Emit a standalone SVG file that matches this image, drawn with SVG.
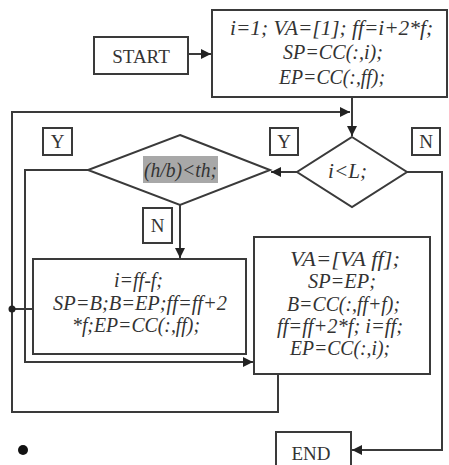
<svg xmlns="http://www.w3.org/2000/svg" width="449" height="465" viewBox="0 0 449 465">
<defs>
<style>
.box{fill:#fff;stroke:#3a3a3a;stroke-width:2}
.ln{fill:none;stroke:#3a3a3a;stroke-width:2}
.t{font-family:"Liberation Serif","Times New Roman",serif;font-style:italic;font-size:20px;fill:#333}
.u{font-family:"Liberation Serif","Times New Roman",serif;font-size:19px;fill:#333}
</style>
<marker id="ah" viewBox="0 0 10 10" refX="10" refY="5" markerWidth="5" markerHeight="5" orient="auto" markerUnits="strokeWidth">
<path d="M0,0 L10,5 L0,10 z" fill="#222"/>
</marker>
</defs>
<rect width="449" height="465" fill="#fff"/>
<g id="connectors">
<path class="ln" d="M188,54 H211" marker-end="url(#ah)"/>
<path class="ln" d="M352,97 V136" marker-end="url(#ah)"/>
<path class="ln" d="M278,374 V412 H12 V112 H350" marker-end="url(#ah)"/>
<path class="ln" d="M297,172 H271" marker-end="url(#ah)"/>
<path class="ln" d="M88,170 H25 V362 H253" marker-end="url(#ah)"/>
<path class="ln" d="M180,205 V258" marker-end="url(#ah)"/>
<path class="ln" d="M33,309 H12"/>
<circle cx="12" cy="309" r="3.5" fill="#222"/>
<path class="ln" d="M407,172 H442 V450 H352" marker-end="url(#ah)"/>
</g>
<g id="start">
<rect class="box" x="94" y="37" width="94" height="37"/>
<text class="u" x="141" y="63" text-anchor="middle" font-size="20">START</text>
</g>
<g id="init">
<rect class="box" x="212" y="10" width="235" height="87"/>
<text class="t" x="230" y="35" textLength="203" lengthAdjust="spacingAndGlyphs">i=1; VA=[1];  ff=i+2*f;</text>
<text class="t" x="283" y="59" textLength="100" lengthAdjust="spacingAndGlyphs">SP=CC(:,i);</text>
<text class="t" x="279" y="84" textLength="106" lengthAdjust="spacingAndGlyphs">EP=CC(:,ff);</text>
</g>
<g id="cond-iL">
<polygon class="box" points="352,137 407,172 352,207 297,172"/>
<text class="t" x="328" y="178" textLength="39" lengthAdjust="spacingAndGlyphs">i&lt;L;</text>
</g>
<g id="cond-hb">
<polygon class="box" points="180,135 270,170 180,205 88,170"/>
<rect x="143" y="156" width="75" height="27" fill="#a8a8a8"/>
<text class="t" x="144" y="177" textLength="73" lengthAdjust="spacingAndGlyphs">(h/b)&lt;th;</text>
</g>
<g id="label-y1">
<rect class="box" x="43" y="128" width="29" height="27"/>
<text class="u" x="57.5" y="148" text-anchor="middle">Y</text>
</g>
<g id="label-y2">
<rect class="box" x="270" y="128" width="28" height="27"/>
<text class="u" x="284" y="148" text-anchor="middle">Y</text>
</g>
<g id="label-n1">
<rect class="box" x="412" y="128" width="28" height="27"/>
<text class="u" x="426" y="148" text-anchor="middle">N</text>
</g>
<g id="label-n2">
<rect class="box" x="143" y="208" width="29" height="35"/>
<text class="u" x="157.5" y="232" text-anchor="middle">N</text>
</g>
<g id="box-left">
<rect class="box" x="33" y="259" width="213" height="95"/>
<text class="t" x="114" y="287" textLength="49" lengthAdjust="spacingAndGlyphs">i=ff-f;</text>
<text class="t" x="53" y="310" textLength="174" lengthAdjust="spacingAndGlyphs">SP=B;B=EP;ff=ff+2</text>
<text class="t" x="72" y="332" textLength="128" lengthAdjust="spacingAndGlyphs">*f;EP=CC(:,ff);</text>
</g>
<g id="box-right">
<rect class="box" x="254" y="237" width="176" height="137"/>
<text class="t" x="290" y="266" textLength="110" lengthAdjust="spacingAndGlyphs">VA=[VA  ff];</text>
<text class="t" x="308" y="288" textLength="68" lengthAdjust="spacingAndGlyphs">SP=EP;</text>
<text class="t" x="287" y="311" textLength="113" lengthAdjust="spacingAndGlyphs">B=CC(:,ff+f);</text>
<text class="t" x="277" y="333" textLength="126" lengthAdjust="spacingAndGlyphs">ff=ff+2*f; i=ff;</text>
<text class="t" x="290" y="355" textLength="100" lengthAdjust="spacingAndGlyphs">EP=CC(:,i);</text>
</g>
<g id="end">
<rect class="box" x="276" y="432" width="75" height="40"/>
<text class="u" x="311" y="460" text-anchor="middle">END</text>
</g>
<circle cx="23" cy="450" r="5" fill="#111"/>
</svg>
